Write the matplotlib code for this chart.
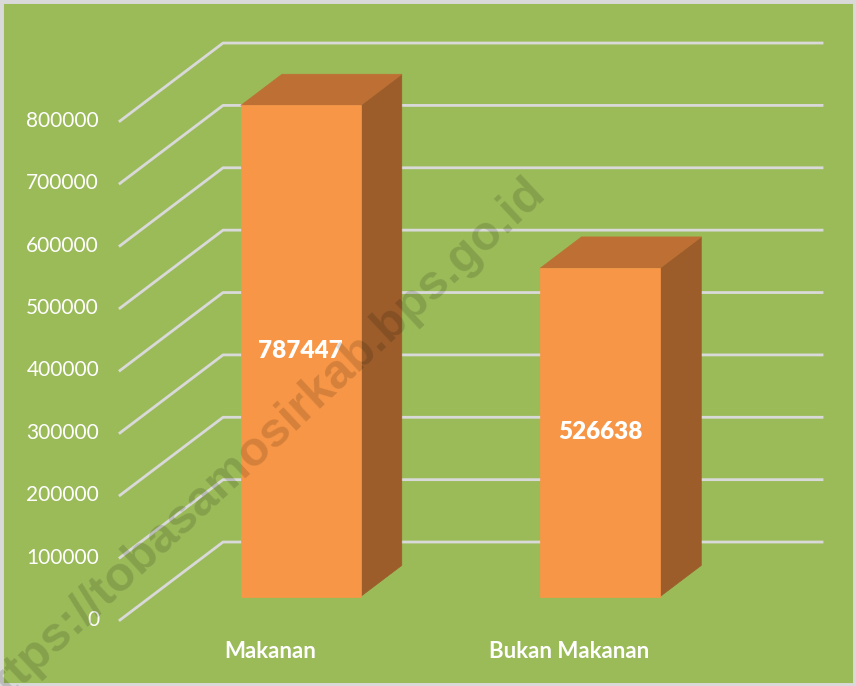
import numpy as np
import matplotlib
matplotlib.use('Agg')
import matplotlib.pyplot as plt
from matplotlib.patches import Polygon, Rectangle

categories = ['Makanan', 'Bukan Makanan']
values = [787447, 526638]
ticks = [0, 100000, 200000, 300000, 400000, 500000, 600000, 700000, 800000]

# fake 3d: depth offset of the back wall in data units
DX = 0.344
DY = 125000
BAR_W = 0.4
D0, D1 = 0.3, 0.7   # bar front / back depth

green = '#9BBB59'
grid_c = '#D9D9D9'
front_c = '#F79646'
top_c = '#BE7034'
side_c = '#9C5D2B'

plt.rcParams['font.family'] = ['Lato', 'DejaVu Sans']

fig = plt.figure(figsize=(8.56, 6.86), dpi=100)
fig.patch.set_facecolor(green)
ax = fig.add_axes([120/856, 66/686, 599/856, 499/686])
ax.set_xlim(-0.5, 1.5)
ax.set_ylim(0, 800000)
ax.axis('off')

# gridlines: diagonal on the side wall, then horizontal on the back wall
for t in ticks:
    ax.plot([-0.5, -0.5 + DX, 1.5 + DX], [t, t + DY, t + DY],
            color=grid_c, lw=2, clip_on=False, zorder=1)
    ax.text(-0.57, t, str(t), ha='right', va='center', color='white',
            fontsize=15, clip_on=False)

# bars
for i, (cat, v) in enumerate(zip(categories, values)):
    x0 = i - BAR_W/2
    x1 = i + BAR_W/2
    fl, fr = x0 + D0*DX, x1 + D0*DX
    yb, yt = D0*DY, v + D0*DY
    ddx = (D1 - D0)*DX
    ddy = (D1 - D0)*DY
    side = Polygon([[fr, yb], [fr + ddx, yb + ddy], [fr + ddx, yt + ddy], [fr, yt]],
                   closed=True, facecolor=side_c, edgecolor=side_c, lw=0.5,
                   clip_on=False, zorder=3)
    top = Polygon([[fl, yt], [fl + ddx, yt + ddy], [fr + ddx, yt + ddy], [fr, yt]],
                  closed=True, facecolor=top_c, edgecolor=top_c, lw=0.5,
                  clip_on=False, zorder=3)
    front = Rectangle((fl, yb), fr - fl, v, facecolor=front_c, edgecolor=front_c,
                      lw=0.5, clip_on=False, zorder=4)
    ax.add_patch(side)
    ax.add_patch(top)
    ax.add_patch(front)
    ax.text((fl + fr)/2, yb + v/2, str(v), ha='center', va='center', color='white',
            fontsize=17.5, fontweight='heavy', zorder=5, clip_on=False)
    ax.text(i, -50000, cat, ha='center', va='center', color='white',
            fontsize=16, fontweight='bold', clip_on=False)

# watermark (runs off the bottom-left corner, as in the source image)
fig.text(0.302, 0.350, 'https://tobasamosirkab.bps.go.id', rotation=43,
         rotation_mode='anchor', ha='center', va='center', fontsize=35,
         fontweight='bold', color='black', alpha=0.14, zorder=10,
         family=['Liberation Sans'])

# light border round the chart area
fig.patches.append(Rectangle((0, 0), 1, 1, transform=fig.transFigure, fill=False,
                             edgecolor=grid_c, lw=5))

fig.savefig('out.png', dpi=100, facecolor=fig.get_facecolor())
